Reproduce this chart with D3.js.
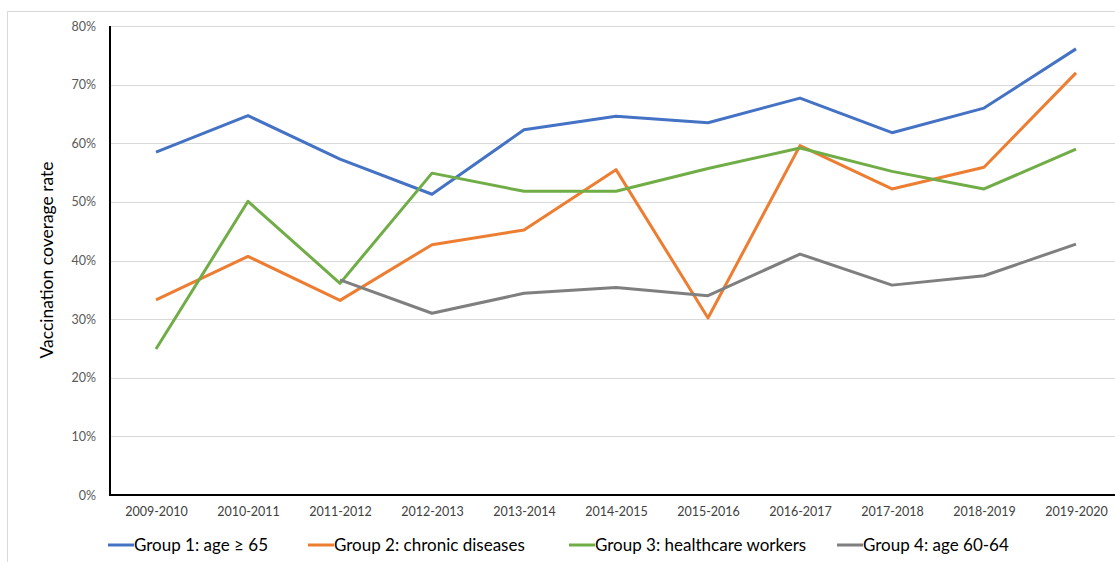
<!DOCTYPE html>
<html>
<head>
<meta charset="utf-8">
<script src="https://cdn.jsdelivr.net/npm/d3@7"></script>
<style>
  html, body { margin: 0; padding: 0; background: #fff; overflow: hidden; }
  svg { display: block; font-family: Lato, "Open Sans", sans-serif; }
</style>
</head>
<body>
<svg id="chart" width="1115" height="562"></svg>
<script>
// seasons on the x axis
const seasons = ['2009-2010', '2010-2011', '2011-2012', '2012-2013', '2013-2014', '2014-2015',
                 '2015-2016', '2016-2017', '2017-2018', '2018-2019', '2019-2020'];

// coverage rates in %
const group1 = [58.5, 64.7, 57.3, 51.3, 62.3, 64.6, 63.5, 67.7, 61.8, 66.0, 76.1];
const group2 = [33.3, 40.7, 33.2, 42.7, 45.2, 55.5, 30.2, 59.6, 52.2, 55.9, 72.0];
const group3 = [24.9, 50.1, 36.1, 54.9, 51.8, 51.8, 55.7, 59.2, 55.2, 52.2, 59.0];
const group4 = [null, null, 36.7, 31.0, 34.4, 35.4, 34.0, 41.1, 35.8, 37.4, 42.8];

const seriesNames = ['Group 1: age \u2265 65', 'Group 2: chronic diseases',
                     'Group 3: healthcare workers', 'Group 4: age 60-64'];
const yTicks = [0, 10, 20, 30, 40, 50, 60, 70, 80];

const colors = ['#4472C4', '#ED7D31', '#70AD47', '#7F7F7F'];
const series = [group1, group2, group3, group4].map((values, i) => ({
    name: seriesNames[i], color: colors[i], values
}));

const svg = d3.select('#chart');
const margin = { top: 26, left: 110, bottom: 495, right: 1122 };

// outer frame of the chart (cut off on the right and bottom like the source)
svg.append('rect')
    .attr('x', 7.5).attr('y', 11.5)
    .attr('width', 1200).attr('height', 600)
    .attr('fill', 'none')
    .attr('stroke', '#d9d9d9')
    .attr('stroke-width', 1);

const x = d3.scalePoint()
    .domain(seasons)
    .range([margin.left, margin.right])
    .padding(0.5);

const y = d3.scaleLinear()
    .domain([0, 80])
    .range([margin.bottom, margin.top]);

// gridlines
svg.append('g')
    .selectAll('line')
    .data(yTicks.slice(1))
    .join('line')
    .attr('x1', margin.left)
    .attr('x2', 1115)
    .attr('y1', d => Math.round(y(d)) + 0.5)
    .attr('y2', d => Math.round(y(d)) + 0.5)
    .attr('stroke', '#d9d9d9')
    .attr('stroke-width', 1);

// y axis labels
svg.append('g')
    .call(d3.axisLeft(y).tickValues(yTicks).tickFormat(d => d + '%').tickSize(0).tickPadding(14))
    .attr('transform', `translate(${margin.left}, 0)`)
    .call(g => g.select('.domain').remove())
    .selectAll('text')
    .attr('font-size', '12.5px')
    .attr('fill', '#595959')
    .attr('font-family', 'Lato, sans-serif');

// x axis labels
svg.append('g')
    .call(d3.axisBottom(x).tickSize(0).tickPadding(12))
    .attr('transform', `translate(0, ${margin.bottom})`)
    .call(g => g.select('.domain').remove())
    .selectAll('text')
    .attr('font-size', '12.5px')
    .attr('fill', '#404040')
    .attr('font-family', 'Lato, sans-serif');

// axis lines
svg.append('line')
    .attr('x1', margin.left).attr('x2', margin.left)
    .attr('y1', margin.top).attr('y2', margin.bottom + 1)
    .attr('stroke', '#000').attr('stroke-width', 2);
svg.append('line')
    .attr('x1', margin.left - 1).attr('x2', 1115)
    .attr('y1', margin.bottom).attr('y2', margin.bottom)
    .attr('stroke', '#000').attr('stroke-width', 2);

const line = d3.line()
    .defined(d => d.v !== null)
    .x(d => x(d.s))
    .y(d => y(d.v));

series.forEach(s => {
    svg.append('path')
        .datum(s.values.map((v, i) => ({ s: seasons[i], v })))
        .attr('fill', 'none')
        .attr('stroke', s.color)
        .attr('stroke-width', 3)
        .attr('stroke-linejoin', 'round')
        .attr('d', line);
});

// y axis title
svg.append('text')
    .attr('transform', 'translate(53, 260) rotate(-90)')
    .attr('text-anchor', 'middle')
    .attr('font-size', '17.5px')
    .attr('fill', '#000')
    .text('Vaccination coverage rate');

// legend
const legendX = [108, 308, 569, 837];
const legend = svg.append('g')
    .selectAll('g')
    .data(series)
    .join('g')
    .attr('transform', (d, i) => `translate(${legendX[i]}, 545)`);

legend.append('line')
    .attr('x1', 0).attr('x2', 26)
    .attr('stroke', d => d.color)
    .attr('stroke-width', 3);

legend.append('text')
    .attr('x', 26)
    .attr('dy', '0.35em')
    .attr('font-size', '17px')
    .attr('fill', '#000')
    .text(d => d.name);
</script>
</body>
</html>
